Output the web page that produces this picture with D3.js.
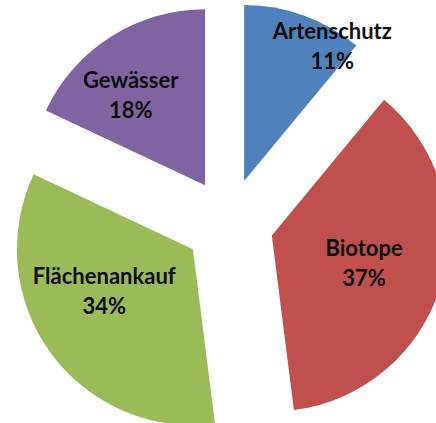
<!DOCTYPE html>
<html>
<head>
<meta charset="utf-8">
<script src="https://cdn.jsdelivr.net/npm/d3@7/dist/d3.min.js"></script>
<style>
  html, body { margin: 0; padding: 0; background: #fff; }
  svg { display: block; }
  .etikett { font-family: Lato, "Open Sans", sans-serif; font-weight: bold; font-size: 22px; fill: #0d0d0d; }
</style>
</head>
<body>
<svg id="diagramm" width="436" height="423"></svg>
<script>
// Daten
const kategorien = ["Artenschutz", "Biotope", "Flächenankauf", "Gewässer"];
const anteile = [11, 37, 34, 18];
const farben = ["#4f81bd", "#c0504d", "#9bbb59", "#8064a2"];

// Geometrie
const breite = 436, hoehe = 423;
const mitte = { x: 229, y: 223 };
const radius = 176;
const abstand = 44.6; // Explosion der Segmente

// Beschriftung: Abstand von der Spitze und Winkelversatz (Grad), wie Excel "optimal"
const beschriftung = [
    { dist: 162, versatz: 13.2 },
    { dist: 96, versatz: 0 },
    { dist: 98, versatz: 10.8 },
    { dist: 117, versatz: -7.1 }
];

const svg = d3.select("#diagramm");

const pie = d3.pie().sort(null).value(d => d.wert);
const arc = d3.arc().innerRadius(0).outerRadius(radius);

const daten = kategorien.map((k, i) => ({ name: k, wert: anteile[i], farbe: farben[i], idx: i }));
const summe = d3.sum(anteile);

const g = svg.append("g").attr("transform", `translate(${mitte.x},${mitte.y})`);

const segmente = g.selectAll(".segment")
    .data(pie(daten))
    .enter().append("g")
        .attr("class", "segment")
        .attr("transform", d => {
            const m = (d.startAngle + d.endAngle) / 2;
            return `translate(${abstand * Math.sin(m)},${-abstand * Math.cos(m)})`;
        });

segmente.append("path")
    .attr("d", arc)
    .attr("fill", d => d.data.farbe);

segmente.each(function (d) {
    const b = beschriftung[d.data.idx];
    const m = (d.startAngle + d.endAngle) / 2 + b.versatz * Math.PI / 180;
    const x = b.dist * Math.sin(m);
    const y = -b.dist * Math.cos(m);
    const t = d3.select(this).append("text")
        .attr("class", "etikett")
        .attr("text-anchor", "middle")
        .attr("x", x)
        .attr("y", y);
    t.append("tspan").attr("x", x).attr("dy", "-0.3em").text(d.data.name);
    t.append("tspan").attr("x", x).attr("dy", "1.36em")
        .text(Math.round(d.data.wert / summe * 100) + "%");
});
</script>
</body>
</html>
